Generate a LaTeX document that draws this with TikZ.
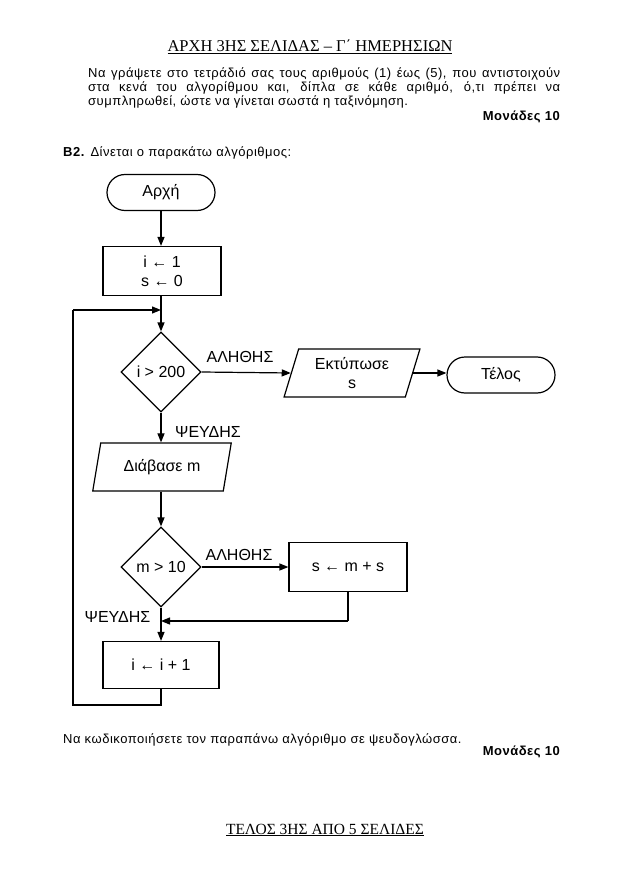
\documentclass[tikz,border=0pt]{standalone}
\usepackage{fontspec}
\setmainfont{Liberation Sans}
\newfontfamily\timesf{Liberation Serif}
\usetikzlibrary{shapes.geometric,shapes.misc,arrows.meta}
\begin{document}
\begin{tikzpicture}[x=1pt,y=-1pt,
  every node/.style={font=\fontsize{13}{14}\selectfont},
  body/.style={inner sep=0pt,font=\addfontfeature{LetterSpace=4}\fontsize{13}{14}\selectfont},
  bbody/.style={inner sep=0pt,font=\bfseries\addfontfeature{LetterSpace=4}\fontsize{13}{14}\selectfont},
  line/.style={line width=1.2pt},
  arr/.style={line width=1.2pt,-{Triangle[length=9pt,width=7pt]}},
  term/.style={draw,line width=1.2pt,rounded rectangle,minimum width=108pt,minimum height=36pt,inner sep=0pt,font=\fontsize{16}{18}\selectfont},
  proc/.style={draw,line width=1.2pt,rectangle,minimum width=118pt,minimum height=49pt,inner sep=0pt,align=center,font=\fontsize{16}{19}\selectfont},
  dec/.style={draw,line width=1.2pt,diamond,minimum width=80pt,minimum height=80pt,inner sep=0pt,font=\fontsize{16}{18}\selectfont},
  io/.style={draw,line width=1.2pt,trapezium,trapezium stretches=true,trapezium left angle=72,trapezium right angle=108,minimum width=136pt,minimum height=48pt,inner sep=0pt,align=center,font=\fontsize{16}{19}\selectfont},
  lbl/.style={inner sep=0pt,font=\fontsize{16}{18}\selectfont}
]
\useasboundingbox (0,0) rectangle (620,877);
% header / footer
\node[inner sep=0pt,font=\timesf\fontsize{16.5}{18}\selectfont] (hdr) at (310,47) {\underline{ΑΡΧΗ 3ΗΣ ΣΕΛΙΔΑΣ – Γ΄ ΗΜΕΡΗΣΙΩΝ}};
\node[inner sep=0pt,font=\timesf\fontsize{15.5}{18}\selectfont] (ftr) at (325,830) {\underline{ΤΕΛΟΣ 3ΗΣ ΑΠΟ 5 ΣΕΛΙΔΕΣ}};
% top text
\node[body,anchor=north west,text width=472pt,align=justify] (par) at (88,68)
  {Να γράψετε στο τετράδιό σας τους αριθμούς (1) έως (5), που αντιστοιχούν\linebreak στα κενά του αλγορίθμου και, δίπλα σε κάθε αριθμό, ό,τι πρέπει να\linebreak συμπληρωθεί, ώστε να γίνεται σωστά η ταξινόμηση.};
\node[bbody,anchor=east] (m1) at (560,117) {Μονάδες 10};
\node[body,anchor=west] (b2) at (63,153) {\textbf{Β2.} Δίνεται ο παρακάτω αλγόριθμος:};
\node[body,anchor=west] (q) at (63,740) {Να κωδικοποιήσετε τον παραπάνω αλγόριθμο σε ψευδογλώσσα.};
\node[bbody,anchor=east] (m2) at (560,752) {Μονάδες 10};
% flowchart
\node[term] (start) at (161,192.5) {Αρχή};
\node[proc] (init) at (162,271) {i ← 1\\ s ← 0};
\node[dec] (d1) at (161,372) {i > 200};
\node[io] (out) at (352,373) {Εκτύπωσε\\ s};
\node[term] (end) at (501,375) {Τέλος};
\node[io,minimum width=139pt] (in) at (162,467) {Διάβασε m};
\node[dec] (d2) at (161,567) {m > 10};
\node[proc] (sum) at (348,567) {s ← m + s};
\node[proc,minimum width=116pt,minimum height=47pt] (inc) at (161,665) {i ← i + 1};
\coordinate (j1) at (161,310);
\coordinate (j2) at (161,621);
\coordinate (c1) at (348,621);
\coordinate (c2) at (161,705);
\coordinate (c3) at (73,705);
\coordinate (c4) at (73,310);
\node[lbl] (t1) at (240,357) {ΑΛΗΘΗΣ};
\node[lbl] (f1) at (208,432) {ΨΕΥΔΗΣ};
\node[lbl] (t2) at (239,555) {ΑΛΗΘΗΣ};
\node[lbl] (f2) at (117.5,617) {ΨΕΥΔΗΣ};
\draw[arr] (start.south) -- (init.north -| start.south);
\draw[arr] (init.south -| d1.north) -- (d1.north);
\draw[arr] (d1.east) -- (out.west);
\draw[arr] (out.east) -- (end.west |- out.east);
\draw[arr] (d1.south) -- (in.north -| d1.south);
\draw[arr] (in.south -| d2.north) -- (d2.north);
\draw[arr] (d2.east) -- (sum.west);
\draw[arr] (d2.south) -- (inc.north);
\draw[line] (sum.south) -- (c1);
\draw[arr] (c1) -- (j2);
\draw[line] (inc.south) -- (c2) -- (c3) -- (c4);
\draw[arr] (c4) -- (j1);
\end{tikzpicture}
\end{document}
